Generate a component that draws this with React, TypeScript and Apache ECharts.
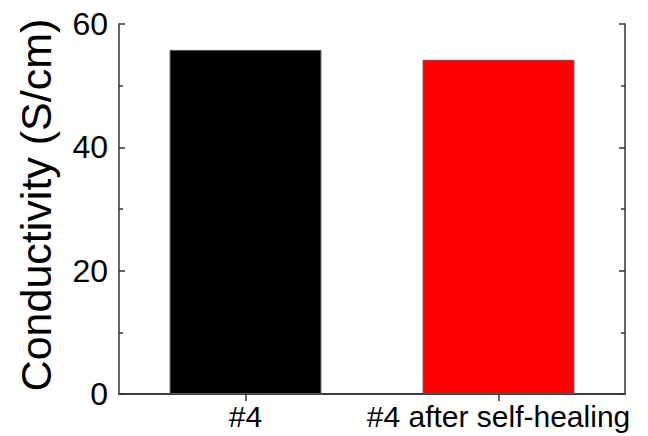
import React, { useEffect, useRef } from "react";
import * as echarts from "echarts";

const categories = ["#4", "#4 after self-healing"];
const values = [55.8, 54.2];
const barColors = ["#000000", "#ff0000"];
const yTicks = { min: 0, max: 60, interval: 20 };
const yTitle = "Conductivity (S/cm)";

const FONT = "Liberation Sans, Arial, sans-serif";
const AXIS = "#333333";

export default function App() {
  const ref = useRef<HTMLDivElement>(null);
  useEffect(() => {
    if (!ref.current) return;
    const chart = echarts.init(ref.current, undefined, { renderer: "svg" });
    const axisLine = { show: true, lineStyle: { color: AXIS, width: 1.5 } };
    chart.setOption({
      animation: false,
      backgroundColor: "#ffffff",
      grid: { left: 119, right: 23, top: 24, bottom: 42 },
      xAxis: [
        {
          type: "category",
          data: categories,
          position: "bottom",
          axisLine,
          axisTick: { show: true, inside: true, alignWithLabel: true, length: 7, lineStyle: { color: AXIS, width: 1.5 } },
          axisLabel: { color: "#000", fontSize: 30, fontFamily: FONT, margin: 7, interval: 0, hideOverlap: false },
          splitLine: { show: false },
        },
        {
          type: "category",
          data: categories,
          position: "top",
          axisLine,
          axisTick: { show: true, inside: true, alignWithLabel: true, length: 7, lineStyle: { color: AXIS, width: 1.5 } },
          axisLabel: { show: false },
          splitLine: { show: false },
        },
      ],
      yAxis: [
        {
          type: "value",
          min: yTicks.min,
          max: yTicks.max,
          interval: yTicks.interval,
          position: "left",
          name: yTitle,
          nameLocation: "middle",
          nameGap: 62,
          nameTextStyle: { color: "#000", fontSize: 43, fontFamily: FONT, padding: [0, 0, 0, 8] },
          axisLine,
          axisTick: { show: true, inside: true, length: 6, lineStyle: { color: AXIS, width: 1.5 } },
          minorTick: { show: true, splitNumber: 2, length: 4, lineStyle: { color: AXIS, width: 1.5 } },
          axisLabel: { color: "#000", fontSize: 32, fontFamily: FONT, margin: 11 },
          splitLine: { show: false },
        },
        {
          type: "value",
          min: yTicks.min,
          max: yTicks.max,
          interval: yTicks.interval,
          position: "right",
          axisLine,
          axisTick: { show: true, inside: true, length: 6, lineStyle: { color: AXIS, width: 1.5 } },
          minorTick: { show: true, splitNumber: 2, length: 4, lineStyle: { color: AXIS, width: 1.5 } },
          axisLabel: { show: false },
          splitLine: { show: false },
        },
      ],
      series: [
        {
          type: "bar",
          xAxisIndex: 0,
          yAxisIndex: 0,
          barWidth: "60%",
          data: values.map((v, i) => ({
            value: v,
            itemStyle: { color: barColors[i], borderColor: "#555555", borderWidth: 1 },
          })),
        },
      ],
    });
    return () => chart.dispose();
  }, []);
  return <div ref={ref} style={{ width: 648, height: 436, position: "absolute", left: 0, top: 0 }} />;
}
